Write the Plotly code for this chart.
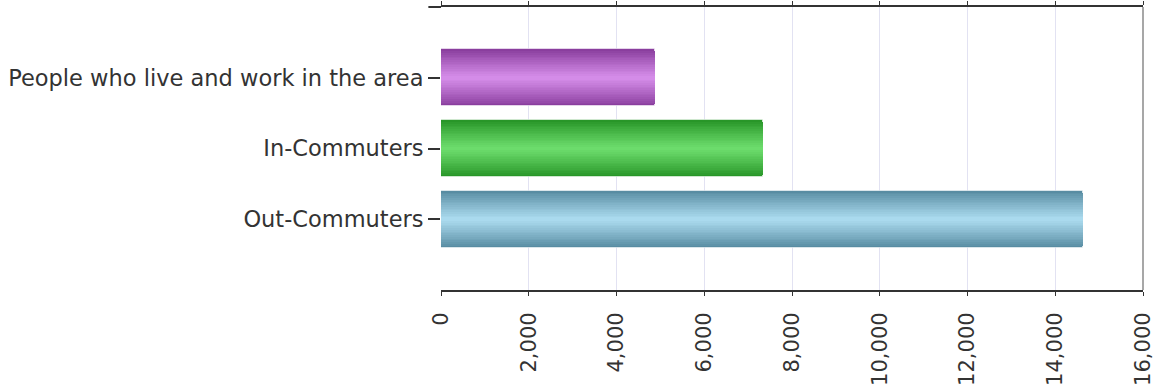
import plotly.graph_objects as go

# Commuting flows for the area
categories = ["Out-Commuters", "In-Commuters", "People who live and work in the area"]
values = [14630, 7340, 4870]
x_ticks = [0, 2000, 4000, 6000, 8000, 10000, 12000, 14000, 16000]

# Edge and highlight colours for each bar's cylinder shading
edge_colors = [(88, 140, 162), (40, 150, 40), (138, 62, 158)]
center_colors = [(170, 218, 238), (108, 220, 108), (212, 140, 232)]

BAR_WIDTH = 0.8
N_LAYERS = 16


def mix(a, b, t):
    return "rgb({},{},{})".format(*[round(a[i] + (b[i] - a[i]) * t) for i in range(3)])


positions = list(range(len(categories)))

fig = go.Figure()
# Stack progressively narrower bars on top of each other to build a
# horizontal highlight band through the middle of each bar.
for k in range(N_LAYERS):
    frac = 1 - k / N_LAYERS
    t = (k / (N_LAYERS - 1)) ** 0.9
    colors = [mix(edge_colors[i], center_colors[i], t) for i in positions]
    fig.add_trace(go.Bar(
        x=values,
        y=positions,
        orientation="h",
        width=BAR_WIDTH * frac,
        marker=dict(
            color=colors,
            line=dict(width=1 if k == 0 else 0,
                      color="rgba(255,255,255,0.55)"),
        ),
        showlegend=False,
        hoverinfo="skip" if k else "x+y",
    ))

font_family = "DejaVu Sans, Verdana, sans-serif"

fig.update_layout(
    width=1160,
    height=387,
    margin=dict(l=441, r=17, t=7, b=97),
    paper_bgcolor="white",
    plot_bgcolor="white",
    barmode="overlay",
    bargap=0,
    xaxis=dict(
        range=[0, 16000],
        tickvals=x_ticks,
        tickformat=",",
        tickangle=-90,
        tickfont=dict(family=font_family, size=21, color="#333333"),
        ticklabelstandoff=8,
        automargin=False,
        showgrid=True,
        gridcolor="#e2e2f2",
        gridwidth=1,
        zeroline=False,
        showline=True,
        linecolor="#333333",
        linewidth=2,
        mirror="ticks",
        ticks="outside",
        ticklen=4,
        tickcolor="#333333",
    ),
    yaxis=dict(
        range=[-1, 3],
        tickvals=positions,
        ticktext=categories,
        tickfont=dict(family=font_family, size=22.5, color="#333333"),
        automargin=False,
        showgrid=False,
        zeroline=False,
        showline=False,
        ticks="outside",
        ticklen=12,
        tickcolor="#333333",
        tickwidth=1.5,
    ),
    shapes=[
        # top rule runs slightly past the plot's left edge
        dict(type="line", xref="paper", yref="paper", x0=-0.018, x1=0,
             y0=1, y1=1, line=dict(color="#333333", width=2)),
        # right frame edge
        dict(type="line", xref="paper", yref="paper", x0=1, x1=1,
             y0=0, y1=1, line=dict(color="#8a8a8a", width=1.5)),
    ],
)

fig.write_html("out.html")
